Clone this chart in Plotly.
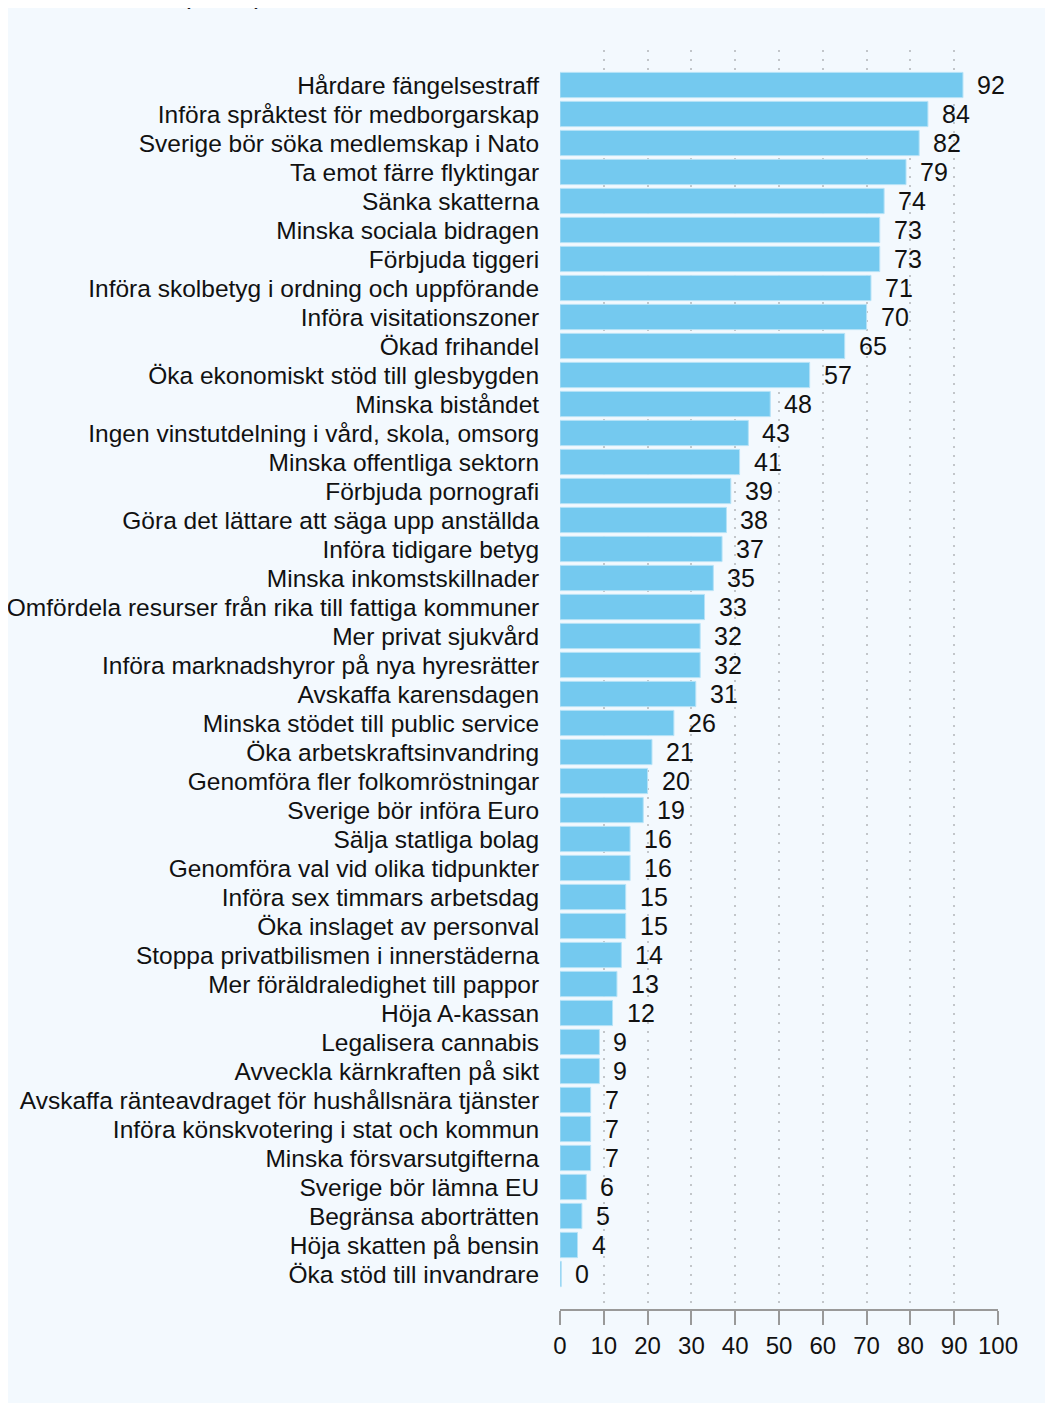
import plotly.graph_objects as go

categories = [
    "Hårdare fängelsestraff",
    "Införa språktest för medborgarskap",
    "Sverige bör söka medlemskap i Nato",
    "Ta emot färre flyktingar",
    "Sänka skatterna",
    "Minska sociala bidragen",
    "Förbjuda tiggeri",
    "Införa skolbetyg i ordning och uppförande",
    "Införa visitationszoner",
    "Ökad frihandel",
    "Öka ekonomiskt stöd till glesbygden",
    "Minska biståndet",
    "Ingen vinstutdelning i vård, skola, omsorg",
    "Minska offentliga sektorn",
    "Förbjuda pornografi",
    "Göra det lättare att säga upp anställda",
    "Införa tidigare betyg",
    "Minska inkomstskillnader",
    "Omfördela resurser från rika till fattiga kommuner",
    "Mer privat sjukvård",
    "Införa marknadshyror på nya hyresrätter",
    "Avskaffa karensdagen",
    "Minska stödet till public service",
    "Öka arbetskraftsinvandring",
    "Genomföra fler folkomröstningar",
    "Sverige bör införa Euro",
    "Sälja statliga bolag",
    "Genomföra val vid olika tidpunkter",
    "Införa sex timmars arbetsdag",
    "Öka inslaget av personval",
    "Stoppa privatbilismen i innerstäderna",
    "Mer föräldraledighet till pappor",
    "Höja A-kassan",
    "Legalisera cannabis",
    "Avveckla kärnkraften på sikt",
    "Avskaffa ränteavdraget för hushållsnära tjänster",
    "Införa könskvotering i stat och kommun",
    "Minska försvarsutgifterna",
    "Sverige bör lämna EU",
    "Begränsa aborträtten",
    "Höja skatten på bensin",
    "Öka stöd till invandrare",
]
values = [92, 84, 82, 79, 74, 73, 73, 71, 70, 65, 57, 48, 43, 41, 39, 38, 37, 35,
          33, 32, 32, 31, 26, 21, 20, 19, 16, 16, 15, 15, 14, 13, 12, 9, 9, 7, 7,
          7, 6, 5, 4, 0.3]
value_labels = ["92", "84", "82", "79", "74", "73", "73", "71", "70", "65", "57",
                "48", "43", "41", "39", "38", "37", "35", "33", "32", "32", "31",
                "26", "21", "20", "19", "16", "16", "15", "15", "14", "13", "12",
                "9", "9", "7", "7", "7", "6", "5", "4", "0"]
x_ticks = [0, 10, 20, 30, 40, 50, 60, 70, 80, 90, 100]
grid_ticks = [0, 10, 20, 30, 40, 50, 60, 70, 80, 90]

FONT = "Liberation Sans, Arial, sans-serif"
# figure sits inside the page's 8px body margin
W, H = 1045, 1395
L, R = 552, 990
T, B = 42, 1301
PW, PH = R - L, B - T
n = len(categories)
pad = 1.207

fig = go.Figure()
fig.add_trace(go.Bar(
    x=values, y=categories, orientation="h",
    marker=dict(color="#74c9ef", line=dict(color="#b5e2f7", width=1)),
    width=0.87, hoverinfo="skip",
))
# invisible carrier so the overlaid grid axis is drawn
fig.add_trace(go.Scatter(x=[0], y=[categories[0]], xaxis="x2", mode="markers",
                         marker=dict(opacity=0), hoverinfo="skip"))

for c, v, lab in zip(categories, values, value_labels):
    fig.add_annotation(x=v, y=c, text=lab, showarrow=False, xanchor="left",
                       yanchor="middle", xshift=12, yshift=0,
                       font=dict(family=FONT, size=25, color="#111111"))

fig.add_annotation(x=(214 - L) / PW, y=1 + (T - 4) / PH, xref="paper", yref="paper",
                   text="(andel)", showarrow=False, xanchor="center", yanchor="bottom",
                   font=dict(family=FONT, size=26, color="#111111"))

fig.update_layout(
    width=W, height=H,
    margin=dict(l=L, r=W - R, t=T, b=H - B, pad=0),
    paper_bgcolor="#f3f9fe", plot_bgcolor="rgba(0,0,0,0)",
    showlegend=False,
    font=dict(family=FONT, color="#111111"),
    xaxis=dict(range=[0, 100], tickmode="array", tickvals=x_ticks, tickangle=0,
               showgrid=False, zeroline=False, automargin=False,
               showline=True, linecolor="#999999", linewidth=2,
               ticks="outside", ticklen=14, tickwidth=2, tickcolor="#999999",
               tickfont=dict(family=FONT, size=24, color="#111111"), fixedrange=True),
    xaxis2=dict(range=[0, 100], overlaying="x", side="bottom", tickmode="array",
                tickvals=grid_ticks, showticklabels=False, showgrid=True,
                gridcolor="#c2c6ca", griddash="2px,7px", gridwidth=2,
                zeroline=False, showline=False, ticks="", automargin=False),
    yaxis=dict(type="category", categoryorder="array", categoryarray=categories,
               tickmode="array", tickvals=categories, automargin=False,
               range=[n - 1 + pad, -pad], showgrid=False, zeroline=False,
               showline=False, ticks="outside", ticklen=15, tickcolor="rgba(0,0,0,0)",
               tickfont=dict(family=FONT, size=24.5, color="#111111")),
)

fig.write_html("out.html")
